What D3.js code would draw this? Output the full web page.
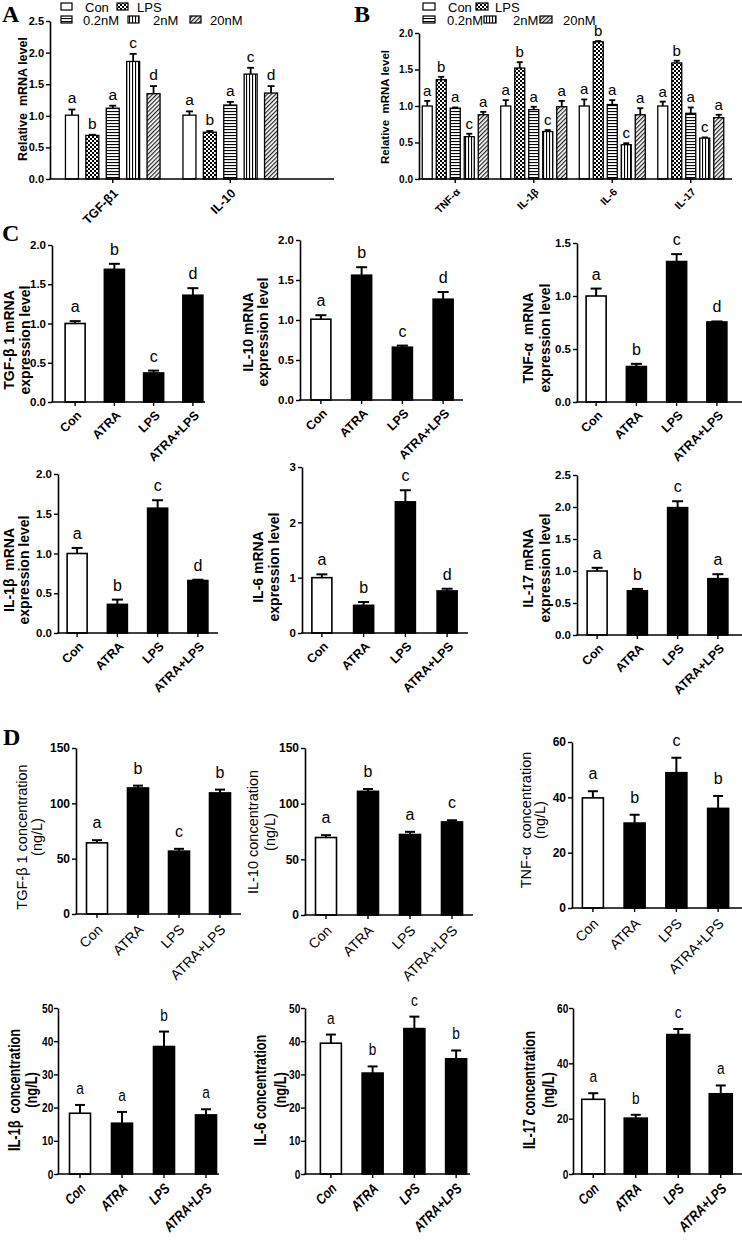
<!DOCTYPE html>
<html><head><meta charset="utf-8">
<script src="https://cdn.jsdelivr.net/npm/d3@7"></script>
<style>
body{margin:0;background:#fff}
svg{display:block}
text{white-space:pre}
</style></head><body>
<svg id="fig" width="742" height="1241"></svg>
<script>
// ---------------- DATA ----------------
const seriesAB = ["Con","LPS","0.2nM","2nM","20nM"];
const groupsA = ["TGF-β1","IL-10"];
const valuesA = [[1.01,0.69,1.12,1.86,1.35],[1.01,0.74,1.17,1.66,1.36]];
const errorsA = [[0.09,0.01,0.04,0.12,0.12],[0.06,0.02,0.05,0.10,0.11]];
const lettersA = [["a","b","a","c","d"],["a","b","a","c","d"]];
const ticksA = [0,0.5,1,1.5,2,2.5];

const groupsB = ["TNF-α","IL-1β","IL-6","IL-17"];
const valuesB = [[1.0,1.36,0.97,0.58,0.88],[1.0,1.52,0.95,0.65,0.99],[1.0,1.88,1.02,0.47,0.88],[1.0,1.59,0.90,0.56,0.84]];
const errorsB = [[0.07,0.04,0.01,0.04,0.04],[0.08,0.08,0.04,0.02,0.08],[0.09,0.01,0.06,0.02,0.09],[0.06,0.03,0.08,0.01,0.04]];
const lettersB = [["a","b","a","c","a"],["a","b","a","c","a"],["a","b","a","c","a"],["a","b","a","c","a"]];
const ticksB = [0,0.5,1,1.5,2];

const treatments = ["Con","ATRA","LPS","ATRA+LPS"];
// C: mRNA expression
const valC_TGF = [1.0,1.69,0.37,1.36],  errC_TGF = [0.03,0.07,0.03,0.09], letC_TGF = ["a","b","c","d"];
const valC_IL10 = [1.01,1.56,0.66,1.26], errC_IL10 = [0.05,0.10,0.02,0.09], letC_IL10 = ["a","b","c","d"];
const valC_TNF = [1.0,0.335,1.325,0.755], errC_TNF = [0.07,0.025,0.07,0.005], letC_TNF = ["a","b","c","d"];
const valC_IL1 = [1.0,0.36,1.57,0.66], errC_IL1 = [0.07,0.06,0.10,0.01], letC_IL1 = ["a","b","c","d"];
const valC_IL6 = [1.0,0.50,2.37,0.76], errC_IL6 = [0.06,0.06,0.21,0.04], letC_IL6 = ["a","b","c","d"];
const valC_IL17 = [1.0,0.69,1.99,0.88], errC_IL17 = [0.05,0.03,0.10,0.07], letC_IL17 = ["a","b","c","a"];
const ticksC_2 = [0,0.5,1,1.5,2], ticksC_15 = [0,0.5,1,1.5], ticksC_3 = [0,1,2,3], ticksC_25 = [0,0.5,1,1.5,2,2.5];
// D: concentration (ng/L)
const valD_TGF = [64.3,113.9,56.8,109.4], errD_TGF = [2.4,2.1,2.1,3.0], letD_TGF = ["a","b","c","b"];
const valD_IL10 = [69.6,111.1,72.3,83.6], errD_IL10 = [2.1,2.1,2.4,1.5], letD_IL10 = ["a","b","a","c"];
const valD_TNF = [39.8,30.7,48.9,36.0], errD_TNF = [2.4,3.0,5.4,4.5], letD_TNF = ["a","b","c","b"];
const valD_IL1 = [18.3,15.3,38.4,17.8], errD_IL1 = [2.5,3.4,4.5,1.7], letD_IL1 = ["a","a","b","a"];
const valD_IL6 = [39.4,30.4,43.8,34.7], errD_IL6 = [2.6,2.0,3.6,2.5], letD_IL6 = ["a","b","c","b"];
const valD_IL17 = [27.0,20.2,50.4,29.0], errD_IL17 = [2.2,1.2,2.0,3.0], letD_IL17 = ["a","b","c","a"];
const ticksD_150 = [0,50,100,150], ticksD_60 = [0,20,40,60], ticksD_50 = [0,10,20,30,40,50];

// ---------------- STYLE / LAYOUT ----------------
const SANS = '"Liberation Sans", Arial, sans-serif';
const SERIF = '"Liberation Serif", "Times New Roman", serif';
const fillAB = ["#fff","url(#pLPS)","url(#pH)","url(#pV)","url(#pD)"];

const svg = d3.select("#fig");
svg.append("rect").attr("width",742).attr("height",1241).attr("fill","#fff");
const defs = svg.append("defs");
function pat(id,w,h,build){
  const p = defs.append("pattern").attr("id",id).attr("width",w).attr("height",h).attr("patternUnits","userSpaceOnUse");
  p.append("rect").attr("width",w).attr("height",h).attr("fill","#fff");
  build(p); return p;
}
pat("pLPS",4,4,p=>{p.append("rect").attr("width",2).attr("height",2).attr("fill","#000");
  p.append("rect").attr("x",2).attr("y",2).attr("width",2).attr("height",2).attr("fill","#000");});
pat("pH",3,3,p=>p.append("rect").attr("width",3).attr("height",1.1).attr("fill","#000"));
pat("pV",3,3,p=>p.append("rect").attr("width",1.1).attr("height",3).attr("fill","#000"));
pat("pD",3,3,p=>p.append("rect").attr("width",1.2).attr("height",3).attr("fill","#222")).attr("patternTransform","rotate(45)");

function styleText(t,font){
  t.attr("font-family",font.family).attr("font-size",font.size).attr("font-weight",font.weight||"normal")
   .attr("font-style",font.style||"normal").attr("fill","#000");
  return t;
}
const sc = f => (f.sx && f.sx!==1) ? ` scale(${f.sx},1)` : "";
function txt(x,y,s,font,anchor){
  const t = svg.append("text").attr("transform",`translate(${x},${y})${sc(font)}`).text(s);
  if(anchor) t.attr("text-anchor",anchor);
  return styleText(t,font);
}
function yAxis(y,ticks,fmt,axisX,font){
  const ax = svg.append("g").attr("transform",`translate(${axisX},0)`)
    .call(d3.axisLeft(y).tickValues(ticks).tickFormat(fmt).tickSize(4).tickSizeOuter(0).tickPadding(2));
  ax.attr("font-family",null).attr("font-size",null);
  ax.select(".domain").attr("stroke-width",1.6);
  ax.selectAll(".tick line").attr("stroke-width",1.4);
  const t = ax.selectAll(".tick text").attr("x",-6).attr("transform",sc(font) || null);
  styleText(t,font);
}
function xAxis(x,axisX,axisEnd,yBottom,font,off){
  svg.append("line").attr("x1",axisX-0.8).attr("x2",axisEnd).attr("y1",yBottom).attr("y2",yBottom)
    .attr("stroke","#000").attr("stroke-width",1.6);
  const ax = svg.append("g").attr("transform",`translate(0,${yBottom})`)
    .call(d3.axisBottom(x).tickSize(4).tickSizeOuter(0));
  ax.attr("font-family",null).attr("font-size",null);
  ax.select(".domain").remove();
  ax.selectAll(".tick line").attr("stroke-width",1.4);
  const t = ax.selectAll(".tick text").attr("x",0).attr("y",0).attr("dy","0.35em")
    .attr("transform",`translate(${off[0]},${off[1]}) rotate(-45)${sc(font)}`).attr("text-anchor","end");
  styleText(t,font);
}
function yLabel(lines,xs,cy,font){
  lines.forEach((s,i)=>{
    const t = svg.append("text").attr("transform",`translate(${xs[i]},${cy}) rotate(-90)${sc(font)}`)
      .attr("text-anchor","middle").attr("dy","0.35em").text(s);
    styleText(t,font);
  });
}
function errBars(g,cx,y,v,e,capW,sw){
  g.append("line").attr("x1",cx).attr("x2",cx).attr("y1",y(v)).attr("y2",y(v+e)).attr("stroke","#000").attr("stroke-width",sw);
  g.append("line").attr("x1",cx-capW/2).attr("x2",cx+capW/2).attr("y1",y(v+e)).attr("y2",y(v+e)).attr("stroke","#000").attr("stroke-width",sw);
}

// ---- simple 4-bar charts (panels C, D) ----
function simpleChart(o){
  const y = d3.scaleLinear().domain([0,o.yMax]).range([o.yBottom,o.yTop]);
  const x = d3.scaleBand().domain(treatments).range(o.band);
  const g = svg.append("g");
  treatments.forEach((t,i)=>{
    const cx = x(t)+x.bandwidth()/2, v = o.values[i], e = o.errors[i];
    errBars(g,cx,y,v,e,o.capW,2);
    g.append("rect").attr("x",cx-o.barW/2).attr("y",y(v)).attr("width",o.barW).attr("height",y(0)-y(v))
      .attr("fill",i===0?"#fff":"#000").attr("stroke","#000").attr("stroke-width",1.6);
    txt(cx,y(v+e)-o.gap,o.letters[i],o.letFont,"middle");
  });
  yAxis(y,o.ticks,o.fmt,o.axisX,o.tickFont);
  xAxis(x,o.axisX,o.axisEnd,o.yBottom,o.xFont,o.xOff);
  yLabel(o.label,o.labelX,o.labelCY,o.labelFont);
}

// ---- grouped charts (panels A, B) ----
function groupedChart(o){
  const y = d3.scaleLinear().domain([0,o.yMax]).range([o.yBottom,o.yTop]);
  const x0 = d3.scaleBand().domain(o.groups).range(o.band);
  const x1 = d3.scalePoint().domain(seriesAB).range([-o.inner,o.inner]);
  const g = svg.append("g");
  o.groups.forEach((grp,gi)=>{
    const gc = x0(grp)+x0.bandwidth()/2;
    seriesAB.forEach((s,si)=>{
      const cx = gc + x1(s), v = o.values[gi][si], e = o.errors[gi][si];
      errBars(g,cx,y,v,e,o.capW,1.8);
      g.append("rect").attr("x",cx-o.barW/2).attr("y",y(v)).attr("width",o.barW).attr("height",y(0)-y(v))
        .attr("fill",fillAB[si]).attr("stroke","#000").attr("stroke-width",1.3);
      txt(cx,y(v+e)-o.gap,o.letters[gi][si],o.letFont,"middle");
    });
  });
  yAxis(y,o.ticks,d3.format(".1f"),o.axisX,o.tickFont);
  xAxis(x0,o.axisX,o.axisEnd,o.yBottom,o.xFont,o.xOff);
  yLabel(["Relative  mRNA level"],[o.labelX],o.labelCY,o.labelFont);
  o.legend.forEach((L,i)=>{
    svg.append("rect").attr("x",L[0]).attr("y",L[1]).attr("width",o.boxW).attr("height",o.boxH)
      .attr("fill",fillAB[i]).attr("stroke","#000").attr("stroke-width",1.2);
    txt(L[2],L[1]+o.boxH+1.5,seriesAB[i],{family:SANS,size:13});
  });
}

// Panel letters
[["A",2,22],["B",354,22],["C",2,241],["D",3,745]].forEach(p=>
  txt(p[1],p[2],p[0],{family:SERIF,size:24,weight:"bold"}));

groupedChart({groups:groupsA,values:valuesA,errors:errorsA,letters:lettersA,ticks:ticksA,yMax:2.5,
  yTop:21,yBottom:179,axisX:50,axisEnd:334,band:[54,289],inner:40.8,barW:13,capW:7,gap:6,
  tickFont:{family:SANS,size:11,weight:"bold"},xFont:{family:SANS,size:12.5,weight:"bold"},xOff:[3,12],
  letFont:{family:SANS,size:15.5},labelFont:{family:SANS,size:12.5,weight:"bold"},labelX:23,labelCY:99,
  boxW:11,boxH:7,legend:[[61,3,85],[117,3,137],[61,16,83],[128,16,153],[190,16,210]]});

groupedChart({groups:groupsB,values:valuesB,errors:errorsB,letters:lettersB,ticks:ticksB,yMax:2.0,
  yTop:33,yBottom:179,axisX:419,axisEnd:732,band:[416,730],inner:28,barW:10,capW:6,gap:5,
  tickFont:{family:SANS,size:10,weight:"bold"},xFont:{family:SANS,size:10.5,weight:"bold"},xOff:[3,11],
  letFont:{family:SANS,size:15},labelFont:{family:SANS,size:11.5,weight:"bold"},labelX:385,labelCY:107,
  boxW:12,boxH:7,legend:[[423,3,448],[476,3,495],[423,16,447],[484,16,513],[540,16,563]]});

// Panel C
const cTick = {family:SANS,size:11.5,weight:"bold"}, cX = {family:SANS,size:12.5,weight:"bold"},
      cLet = {family:SANS,size:16}, cLab = {family:SANS,size:14,weight:"bold"};
const f1 = d3.format(".1f"), f0 = d3.format("d");
simpleChart({values:valC_TGF,errors:errC_TGF,letters:letC_TGF,ticks:ticksC_2,fmt:f1,yMax:2,
  yTop:245,yBottom:402,axisX:52,axisEnd:205,band:[55.5,212.5],barW:20,capW:11,gap:9,
  tickFont:cTick,xFont:cX,xOff:[4,11],letFont:cLet,labelFont:cLab,
  label:["TGF-β 1 mRNA","expression level"],labelX:[9,25],labelCY:340});
simpleChart({values:valC_IL10,errors:errC_IL10,letters:letC_IL10,ticks:ticksC_2,fmt:f1,yMax:2,
  yTop:240,yBottom:400,axisX:300,axisEnd:463,band:[300.5,463.5],barW:20,capW:11,gap:9,
  tickFont:cTick,xFont:cX,xOff:[4,11],letFont:cLet,labelFont:cLab,
  label:["IL-10 mRNA","expression level"],labelX:[248,263],labelCY:332});
simpleChart({values:valC_TNF,errors:errC_TNF,letters:letC_TNF,ticks:ticksC_15,fmt:f1,yMax:1.5,
  yTop:243,yBottom:402,axisX:577,axisEnd:742,band:[576,737],barW:20,capW:11,gap:9,
  tickFont:cTick,xFont:cX,xOff:[4,11],letFont:cLet,labelFont:cLab,
  label:["TNF-α  mRNA","expression level"],labelX:[528,545],labelCY:338});
simpleChart({values:valC_IL1,errors:errC_IL1,letters:letC_IL1,ticks:ticksC_2,fmt:f1,yMax:2,
  yTop:474,yBottom:633,axisX:58,axisEnd:218,band:[57,218],barW:20,capW:11,gap:9,
  tickFont:cTick,xFont:cX,xOff:[4,11],letFont:cLet,labelFont:cLab,
  label:["IL-1β  mRNA","expression level"],labelX:[9,24],labelCY:570});
simpleChart({values:valC_IL6,errors:errC_IL6,letters:letC_IL6,ticks:ticksC_3,fmt:f0,yMax:3,
  yTop:467,yBottom:633,axisX:302,axisEnd:468,band:[301,468],barW:20,capW:11,gap:9,
  tickFont:cTick,xFont:cX,xOff:[4,11],letFont:cLet,labelFont:cLab,
  label:["IL-6 mRNA","expression level"],labelX:[258,274],labelCY:567});
simpleChart({values:valC_IL17,errors:errC_IL17,letters:letC_IL17,ticks:ticksC_25,fmt:f1,yMax:2.5,
  yTop:475,yBottom:635,axisX:577,axisEnd:742,band:[577,738],barW:20,capW:11,gap:9,
  tickFont:cTick,xFont:cX,xOff:[4,11],letFont:cLet,labelFont:cLab,
  label:["IL-17 mRNA","expression level"],labelX:[528,545],labelCY:568});

// Panel D row 1
const dTick = {family:SANS,size:12,weight:"bold"}, dX = {family:SANS,size:14},
      dLet = {family:SANS,size:16}, dLab = {family:SANS,size:14.5};
simpleChart({values:valD_TGF,errors:errD_TGF,letters:letD_TGF,ticks:ticksD_150,fmt:f0,yMax:150,
  yTop:748,yBottom:914,axisX:76,axisEnd:241,band:[76.5,240.5],barW:21,capW:10,gap:12,
  tickFont:dTick,xFont:dX,xOff:[3,13],letFont:dLet,labelFont:dLab,
  label:["TGF-β 1 concentration","(ng/L)"],labelX:[22,37],labelCY:837});
simpleChart({values:valD_IL10,errors:errD_IL10,letters:letD_IL10,ticks:ticksD_150,fmt:f0,yMax:150,
  yTop:748,yBottom:915,axisX:305,axisEnd:473,band:[305,473],barW:21,capW:10,gap:12,
  tickFont:dTick,xFont:dX,xOff:[3,13],letFont:dLet,labelFont:dLab,
  label:["IL-10 concentration","(ng/L)"],labelX:[253,270],labelCY:832});
simpleChart({values:valD_TNF,errors:errD_TNF,letters:letD_TNF,ticks:ticksD_60,fmt:f0,yMax:60,
  yTop:742,yBottom:908,axisX:572,axisEnd:742,band:[572,739],barW:21,capW:10,gap:12,
  tickFont:dTick,xFont:dX,xOff:[3,13],letFont:dLet,labelFont:dLab,
  label:["TNF-α  concentration","(ng/L)"],labelX:[526,540],labelCY:820});

// Panel D row 2 (condensed type)
const eTick = {family:SANS,size:13,weight:"bold",sx:0.78}, eX = {family:SANS,size:14.5,weight:"bold",style:"italic",sx:0.8},
      eLet = {family:SANS,size:17,sx:0.8}, eLab = {family:SANS,size:16,weight:"bold",sx:0.8};
simpleChart({values:valD_IL1,errors:errD_IL1,letters:letD_IL1,ticks:ticksD_50,fmt:f0,yMax:50,
  yTop:1008,yBottom:1174,axisX:58,axisEnd:219,band:[59,227],barW:21,capW:10,gap:11,
  tickFont:eTick,xFont:eX,xOff:[3,12],letFont:eLet,labelFont:eLab,
  label:["IL-1β  concentration","(ng/L)"],labelX:[14,31],labelCY:1090});
simpleChart({values:valD_IL6,errors:errD_IL6,letters:letD_IL6,ticks:ticksD_50,fmt:f0,yMax:50,
  yTop:1008,yBottom:1174,axisX:305,axisEnd:470,band:[310,477],barW:21,capW:10,gap:11,
  tickFont:eTick,xFont:eX,xOff:[3,12],letFont:eLet,labelFont:eLab,
  label:["IL-6 concentration","(ng/L)"],labelX:[260,280],labelCY:1090});
simpleChart({values:valD_IL17,errors:errD_IL17,letters:letD_IL17,ticks:ticksD_60,fmt:f0,yMax:60,
  yTop:1008,yBottom:1174,axisX:573,axisEnd:742,band:[572,742],barW:23,capW:10,gap:11,
  tickFont:eTick,xFont:eX,xOff:[3,12],letFont:eLet,labelFont:eLab,
  label:["IL-17 concentration","(ng/L)"],labelX:[529,548],labelCY:1090});
</script>
</body></html>
